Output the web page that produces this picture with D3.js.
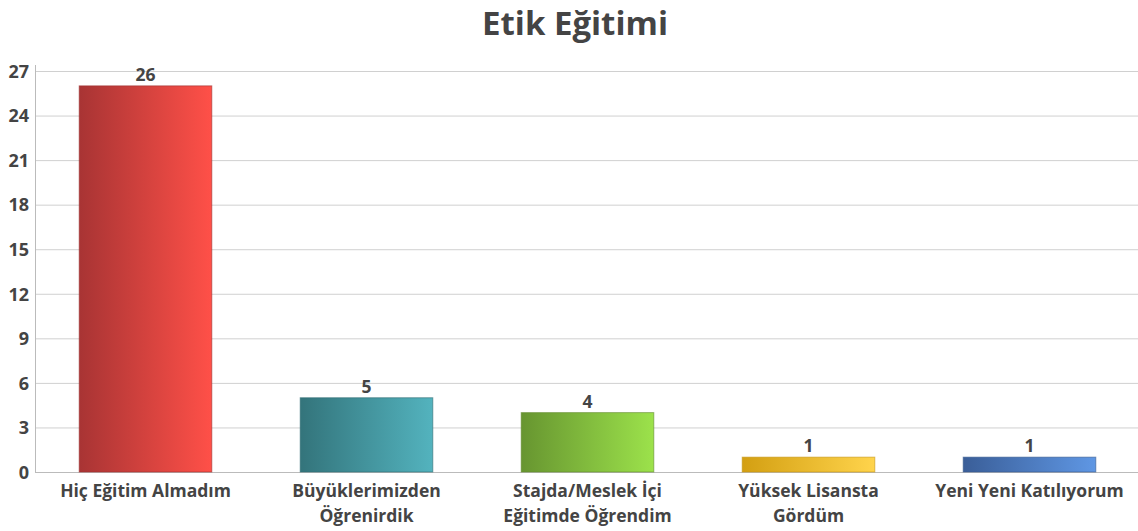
<!DOCTYPE html>
<html>
<head>
<meta charset="utf-8">
<script src="https://cdn.jsdelivr.net/npm/d3@7"></script>
<style>
  body { margin: 0; background: #fff; }
  text { font-family: "Open Sans", "Noto Sans", sans-serif; font-weight: 700; fill: #444; }
</style>
</head>
<body>
<svg id="chart" width="1138" height="531"></svg>
<script>
var title = 'Etik Eğitimi'
var categories = [
  ['Hiç Eğitim Almadım'],
  ['Büyüklerimizden', 'Öğrenirdik'],
  ['Stajda/Meslek İçi', 'Eğitimde Öğrendim'],
  ['Yüksek Lisansta', 'Gördüm'],
  ['Yeni Yeni Katılıyorum']
]
var values = [26, 5, 4, 1, 1]
var yTicks = [0, 3, 6, 9, 12, 15, 18, 21, 24, 27]
var colors = [
  ['#a83434', '#ff5048'],
  ['#33747b', '#53b3be'],
  ['#679530', '#9ce24b'],
  ['#d39f12', '#ffd44c'],
  ['#3a5e98', '#5f97e4']
]

var svg = d3.select('#chart')
  , width = +svg.attr('width')
  , height = +svg.attr('height')
  , margin = { top: 71, right: 0, bottom: 59, left: 35 }

var x = d3.scaleBand()
  .domain(d3.range(values.length))
  .range([margin.left, 1140])
  .paddingInner(0.4)
  .paddingOuter(0.2)

var y = d3.scaleLinear()
  .domain([0, 27])
  .range([height - margin.bottom, margin.top])

var defs = svg.append('defs')
colors.forEach(function(c, i) {
  var g = defs.append('linearGradient').attr('id', 'grad' + i)
    .attr('x1', '0%').attr('x2', '100%').attr('y1', '0%').attr('y2', '0%')
  g.append('stop').attr('offset', '0%').attr('stop-color', c[0])
  g.append('stop').attr('offset', '100%').attr('stop-color', c[1])
})

svg.append('text')
  .attr('x', 575).attr('y', 35)
  .attr('text-anchor', 'middle')
  .style('font-size', '33px')
  .text(title)

// grid
svg.append('g').selectAll('line').data(yTicks.slice(1))
  .enter().append('line')
  .attr('x1', margin.left).attr('x2', width)
  .attr('y1', function(d) { return y(d) + 0.5 })
  .attr('y2', function(d) { return y(d) + 0.5 })
  .attr('stroke', '#d0d0d0')

var yAxis = svg.append('g')
  .attr('transform', 'translate(' + margin.left + ',0)')
  .call(d3.axisLeft(y).tickValues(yTicks).tickSize(0).tickPadding(6))
yAxis.select('.domain').attr('stroke', '#bbb').attr('d', 'M0.5,' + (margin.top - 6) + 'V' + y(0))
yAxis.selectAll('text').style('font-size', '18px').attr('fill', '#444').attr('dy', '0.35em')

svg.append('line')
  .attr('x1', margin.left).attr('x2', width)
  .attr('y1', y(0) + 0.5).attr('y2', y(0) + 0.5)
  .attr('stroke', '#bbb')

svg.append('g').selectAll('rect').data(values)
  .enter().append('rect')
  .attr('x', function(d, i) { return x(i) })
  .attr('y', function(d) { return y(d) })
  .attr('width', x.bandwidth())
  .attr('height', function(d) { return y(0) - y(d) })
  .attr('fill', function(d, i) { return 'url(#grad' + i + ')' })
  .attr('stroke', function(d, i) { return d3.color(colors[i][0]).darker(0.2) })
  .attr('stroke-opacity', 0.6)

svg.append('g').selectAll('text').data(values)
  .enter().append('text')
  .attr('x', function(d, i) { return x(i) + x.bandwidth() / 2 })
  .attr('y', function(d) { return y(d) - 5 })
  .attr('text-anchor', 'middle')
  .style('font-size', '17.5px')
  .text(function(d) { return d })

var labels = svg.append('g').selectAll('text').data(categories)
  .enter().append('text')
  .attr('text-anchor', 'middle')
  .style('font-size', '17.5px')
labels.selectAll('tspan').data(function(d, i) { return d.map(function(s) { return { s: s, i: i } }) })
  .enter().append('tspan')
  .attr('x', function(d) { return x(d.i) + x.bandwidth() / 2 })
  .attr('y', function(d, j) { return y(0) + 25 + j * 25 })
  .text(function(d) { return d.s })
</script>
</body>
</html>
